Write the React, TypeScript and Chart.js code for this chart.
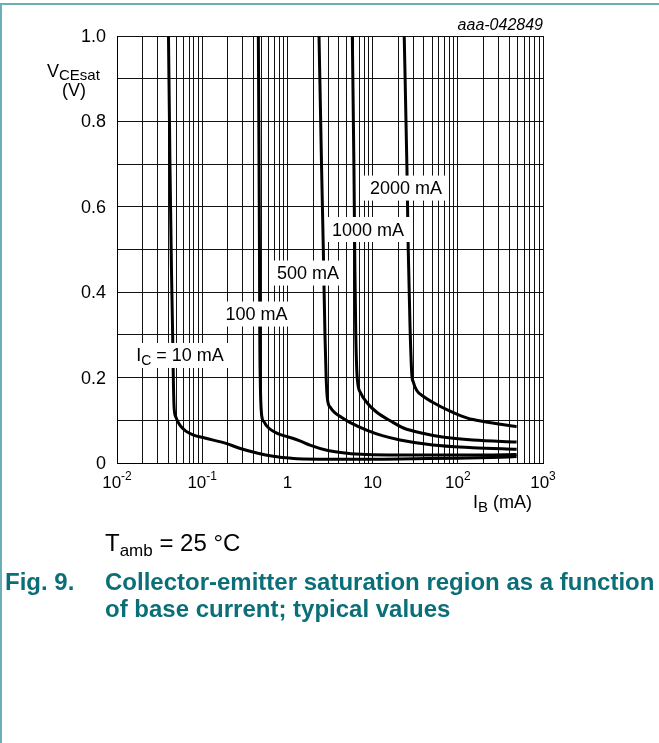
import React, { useEffect, useRef } from "react";
import { Chart, registerables } from "chart.js";

Chart.register(...registerables);

// ---- data (IB in mA, VCEsat in V) ----
const ib10 = [0.0402, 0.0419, 0.0436, 0.045, 0.0458, 0.0468, 0.049, 0.055, 0.065, 0.078, 0.11, 0.19, 0.28, 0.45, 0.68, 1.0, 1.3, 3, 10, 30, 100, 250, 490];
const v10 = [1.0, 0.69, 0.45, 0.3, 0.2, 0.13, 0.108, 0.088, 0.074, 0.066, 0.058, 0.046, 0.034, 0.023, 0.016, 0.012, 0.01, 0.009, 0.009, 0.01, 0.011, 0.013, 0.015];

const ib100 = [0.456, 0.465, 0.47, 0.474, 0.482, 0.5, 0.53, 0.571, 0.65, 0.75, 0.9, 1.15, 1.4, 1.84, 2.9, 5, 8.5, 20, 60, 200, 490];
const v100 = [1.0, 0.69, 0.5, 0.3, 0.18, 0.11, 0.097, 0.087, 0.077, 0.07, 0.064, 0.058, 0.052, 0.042, 0.03, 0.023, 0.02, 0.019, 0.019, 0.019, 0.02];

const ib500 = [2.35, 2.52, 2.64, 2.76, 2.85, 2.95, 3.2, 3.6, 4.3, 5.4, 8.5, 13, 21, 51, 150, 490];
const v500 = [1.0, 0.69, 0.5, 0.3, 0.2, 0.15, 0.13, 0.118, 0.107, 0.095, 0.077, 0.064, 0.054, 0.042, 0.036, 0.032];

const ib1000 = [5.78, 6.04, 6.2, 6.35, 6.6, 7.2, 8.7, 11, 16.7, 23, 40, 66, 150, 490];
const v1000 = [1.0, 0.69, 0.45, 0.3, 0.2, 0.165, 0.14, 0.12, 0.097, 0.082, 0.069, 0.061, 0.054, 0.049];

const ib2000 = [23.5, 25.3, 26.2, 27.5, 28.8, 30, 33, 40, 50, 80, 130, 200, 490];
const v2000 = [1.0, 0.69, 0.5, 0.32, 0.21, 0.19, 0.17, 0.155, 0.143, 0.122, 0.105, 0.097, 0.085];

const seriesIB = [ib10, ib100, ib500, ib1000, ib2000];
const seriesV = [v10, v100, v500, v1000, v2000];

// curve labels and their anchor (IB, V)
const labelTexts = ["= 10 mA", "100 mA", "500 mA", "1000 mA", "2000 mA"];
const labelIB = [0.0549, 0.4335, 1.746, 8.83, 24.66];
const labelV = [0.253, 0.35, 0.446, 0.548, 0.645];

// ticks
const xTickValues = [0.01, 0.1, 1, 10, 100, 1000];
const xTickBase = ["10", "10", "1", "10", "10", "10"];
const xTickExp = ["-2", "-1", "", "", "2", "3"];
const yTickValues = [0, 0.2, 0.4, 0.6, 0.8, 1.0];
const yTickLabels = ["0", "0.2", "0.4", "0.6", "0.8", "1.0"];
const yGridValues = [0, 0.1, 0.2, 0.3, 0.4, 0.5, 0.6, 0.7, 0.8, 0.9, 1.0];
const xGridValues: number[] = [];
for (let e = -2; e <= 2; e++) {
  for (let m = 1; m <= 9; m++) xGridValues.push(Number((m * Math.pow(10, e)).toPrecision(3)));
}
xGridValues.push(1000);

const FONT = '"Liberation Sans", Arial, Helvetica, sans-serif';
const TEAL = "#0b6f78";

type Part = { t: string; size: number; dy: number; style?: string };

function richWidth(ctx: CanvasRenderingContext2D, parts: Part[]) {
  let w = 0;
  for (const p of parts) {
    ctx.font = `${p.style || ""} ${p.size}px ${FONT}`;
    w += ctx.measureText(p.t).width;
  }
  return w;
}

function drawRich(ctx: CanvasRenderingContext2D, parts: Part[], x: number, y: number, align: "left" | "center" | "right") {
  const w = richWidth(ctx, parts);
  let cx = align === "left" ? x : align === "center" ? x - w / 2 : x - w;
  ctx.textAlign = "left";
  ctx.textBaseline = "alphabetic";
  for (const p of parts) {
    ctx.font = `${p.style || ""} ${p.size}px ${FONT}`;
    ctx.fillText(p.t, cx, y + p.dy);
    cx += ctx.measureText(p.t).width;
  }
  return w;
}

const textPlugin = {
  id: "texts",
  beforeDraw(chart: any) {
    const ctx = chart.ctx as CanvasRenderingContext2D;
    ctx.save();
    ctx.fillStyle = "#ffffff";
    ctx.fillRect(0, 0, chart.width, chart.height);
    ctx.fillStyle = "#6aaeb6";
    ctx.fillRect(0, 3, chart.width, 2);
    ctx.fillRect(0, 3, 2, chart.height);
    ctx.restore();
  },
  afterDatasetsDraw(chart: any) {
    const ctx = chart.ctx as CanvasRenderingContext2D;
    const { x, y } = chart.scales;
    ctx.save();
    for (let i = 0; i < labelTexts.length; i++) {
      const px = x.getPixelForValue(labelIB[i]);
      const py = y.getPixelForValue(labelV[i]);
      const parts: Part[] =
        i === 0
          ? [
              { t: "I", size: 18, dy: 0 },
              { t: "C", size: 14, dy: 4 },
              { t: " " + labelTexts[i], size: 18, dy: 0 },
            ]
          : [{ t: labelTexts[i], size: 18, dy: 0 }];
      const w = richWidth(ctx, parts);
      ctx.fillStyle = "#ffffff";
      ctx.fillRect(px - w / 2 - 6, py - 12, w + 12, 25);
      ctx.fillStyle = "#000000";
      drawRich(ctx, parts, px, py + 6.5, "center");
    }
    ctx.restore();
  },
  afterDraw(chart: any) {
    const ctx = chart.ctx as CanvasRenderingContext2D;
    const { x, y } = chart.scales;
    ctx.save();
    ctx.fillStyle = "#000000";
    // y tick labels
    ctx.font = `18px ${FONT}`;
    ctx.textAlign = "right";
    ctx.textBaseline = "middle";
    yTickValues.forEach((v, i) => {
      ctx.fillText(yTickLabels[i], 106, y.getPixelForValue(v) + 1);
    });
    // x tick labels
    xTickValues.forEach((v, i) => {
      const parts: Part[] = [{ t: xTickBase[i], size: 17, dy: 0 }];
      if (xTickExp[i]) parts.push({ t: xTickExp[i], size: 12, dy: -8 });
      drawRich(ctx, parts, x.getPixelForValue(v), 488, "center");
    });
    // y title
    drawRich(ctx, [{ t: "V", size: 18, dy: 0 }, { t: "CEsat", size: 15, dy: 3 }], 47, 77, "left");
    drawRich(ctx, [{ t: "(V)", size: 18, dy: 0 }], 74, 96, "center");
    // x title
    drawRich(ctx, [{ t: "I", size: 18, dy: 0 }, { t: "B", size: 15, dy: 4 }, { t: " (mA)", size: 18, dy: 0 }], 532, 508, "right");
    // code
    drawRich(ctx, [{ t: "aaa-042849", size: 16, dy: 0, style: "italic" }], 543, 30, "right");
    // condition
    drawRich(ctx, [{ t: "T", size: 24, dy: 0 }, { t: "amb", size: 17, dy: 5 }, { t: " = 25 \u00b0C", size: 24, dy: 0 }], 105, 551, "left");
    // caption
    ctx.fillStyle = TEAL;
    drawRich(ctx, [{ t: "Fig. 9.", size: 24, dy: 0, style: "bold" }], 5, 590, "left");
    drawRich(ctx, [{ t: "Collector-emitter saturation region as a function", size: 24, dy: 0, style: "bold" }], 105, 590, "left");
    drawRich(ctx, [{ t: "of base current; typical values", size: 24, dy: 0, style: "bold" }], 105, 617, "left");
    ctx.restore();
  },
};

export default function App() {
  const canvasRef = useRef<HTMLCanvasElement | null>(null);

  useEffect(() => {
    const canvas = canvasRef.current;
    if (!canvas) return;
    const datasets = seriesIB.map((ibs, k) => ({
      label: labelTexts[k],
      data: ibs.map((b, i) => ({ x: b, y: seriesV[k][i] })),
      borderColor: "#000000",
      borderWidth: 3,
      pointRadius: 0,
      fill: false,
      cubicInterpolationMode: "monotone" as const,
      clip: 1,
    }));
    const chart = new Chart(canvas, {
      type: "line",
      data: { datasets },
      plugins: [textPlugin],
      options: {
        responsive: false,
        animation: false,
        events: [],
        devicePixelRatio: 1,
        layout: { padding: { left: 117, right: 116, top: 36, bottom: 280 } },
        plugins: { legend: { display: false }, tooltip: { enabled: false } },
        scales: {
          x: {
            type: "logarithmic",
            min: 0.01,
            max: 1000,
            afterBuildTicks: (s: any) => {
              s.ticks = xGridValues.map((v) => ({ value: v }));
            },
            ticks: { display: false },
            grid: { color: "#111111", lineWidth: 1, drawTicks: false },
            border: { color: "#000000", width: 1 },
          },
          y: {
            type: "linear",
            min: 0,
            max: 1,
            afterBuildTicks: (s: any) => {
              s.ticks = yGridValues.map((v) => ({ value: v }));
            },
            ticks: { display: false },
            grid: { color: "#111111", lineWidth: 1, drawTicks: false },
            border: { color: "#000000", width: 1 },
          },
        },
      } as any,
    });
    return () => chart.destroy();
  }, []);

  return (
    <div style={{ position: "absolute", left: 0, top: 0, width: 659, height: 743, background: "#fff" }}>
      <canvas ref={canvasRef} width={659} height={743} style={{ display: "block" }} />
    </div>
  );
}
